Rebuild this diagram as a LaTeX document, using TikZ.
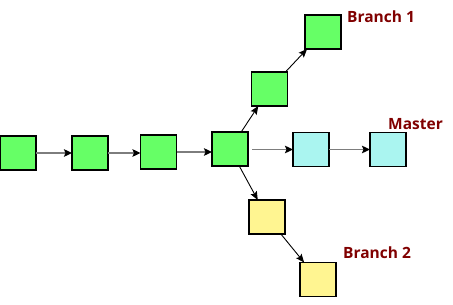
\documentclass[tikz,border=0pt]{standalone}
\usepackage{fontspec}
\setmainfont{Open Sans}
\usetikzlibrary{arrows.meta}
\definecolor{commitgreen}{RGB}{102,255,102}
\definecolor{commitcyan}{RGB}{170,245,240}
\definecolor{commityellow}{RGB}{255,245,145}
\definecolor{labelred}{RGB}{128,0,0}
\definecolor{flowgray}{RGB}{125,125,125}
\begin{document}
\begin{tikzpicture}[x=1pt,y=-1pt,
  commit/.style={draw=black,line width=1.9pt,minimum width=36pt,minimum height=34pt,inner sep=0pt,outer sep=0pt},
  greenc/.style={commit,fill=commitgreen},
  cyanc/.style={commit,fill=commitcyan},
  yellowc/.style={commit,fill=commityellow},
  flow/.style={draw=flowgray,line width=1.7pt,-{Stealth[length=8pt,width=7.5pt,inset=1.5pt,black]}},
  forkarrow/.style={draw=black,line width=0.9pt,-{Stealth[length=8.5pt,width=7pt,inset=1.5pt,black]}},
  branchlabel/.style={text=labelred,font=\fontsize{15.5}{18}\selectfont\bfseries,anchor=base west,inner sep=0pt}]
\useasboundingbox (0,0) rectangle (453,305);
% main line
\node[greenc] (m1) at (18,153) {};
\node[greenc] (m2) at (90,153) {};
\node[greenc] (m3) at (158.5,152) {};
\node[greenc] (m4) at (230,149) {};
% branch 1
\node[greenc] (b1a) at (269.5,89) {};
\node[greenc] (b1b) at (323,32) {};
% master
\node[cyanc] (c1) at (311,149.5) {};
\node[cyanc] (c2) at (388,149.5) {};
% branch 2
\node[yellowc] (y1) at (267,217) {};
\node[yellowc] (y2) at (318,279.5) {};
% connectors
\draw[flow] (m1.east) -- (m2.west);
\draw[flow] (m2.east) -- (m3.west |- m2.east);
\draw[flow] (m3.east) -- (m4.west |- m3.east);
\draw[flow,shorten <=4pt] (m4.east |- c1.west) -- (c1.west);
\draw[flow] (c1.east) -- (c2.west);
\draw[forkarrow] (m4) -- (b1a);
\draw[forkarrow] (b1a) -- (b1b);
\draw[forkarrow] (m4) -- (y1);
\draw[forkarrow] (y1) -- (y2);
% labels
\node[branchlabel] (lb1) at (347,23) {Branch 1};
\node[branchlabel] (lm) at (388,129) {Master};
\node[branchlabel] (lb2) at (343,258) {Branch 2};
\end{tikzpicture}
\end{document}
